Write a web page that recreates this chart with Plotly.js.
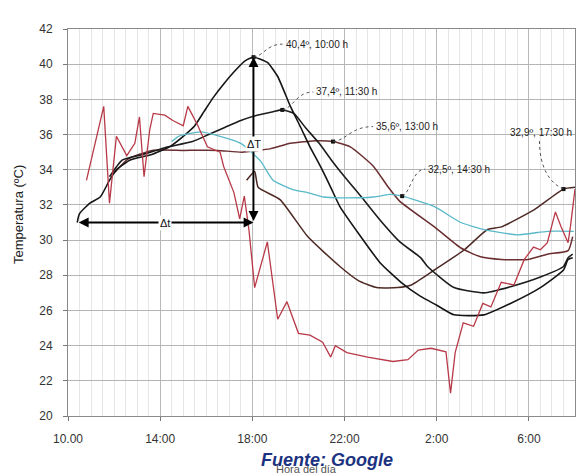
<!DOCTYPE html>
<html><head><meta charset="utf-8">
<script src="https://cdn.plot.ly/plotly-3.0.1.min.js"></script>
<style>html,body{margin:0;padding:0;background:#fff}#chart{width:583px;height:474px}</style>
</head><body><div id="chart"></div>
<script>
// ---- axis ticks ----
const xTickVals = [10, 14, 18, 22, 26, 30];
const xTickText = ["10.00", "14:00", "18:00", "22:00", "2:00", "6:00"];
const yTickVals = [20, 22, 24, 26, 28, 30, 32, 34, 36, 38, 40, 42];

// ---- series (x = hour of day, >24 = next day) ----
const xA = [10.4, 10.5, 10.95, 11.4, 11.8, 12.1, 12.7, 13.6, 14.4, 15.0, 15.5, 15.9, 16.3, 16.8, 17.3, 17.7, 18.05, 18.65, 19.1, 19.65, 20.1, 20.5, 20.95, 21.4, 21.8, 22.7, 23.55, 24.45, 25.3, 26.0, 26.75, 28.05, 29.2, 30.5, 31.5, 31.7, 31.9];
const yA = [31.0, 31.5, 32.1, 32.45, 33.4, 34.0, 34.55, 34.85, 35.3, 35.9, 36.5, 37.3, 38.1, 38.95, 39.7, 40.2, 40.4, 40.1, 39.3, 37.6, 36.4, 35.3, 34.2, 33.0, 31.9, 30.2, 28.7, 27.6, 26.8, 26.3, 25.75, 25.75, 26.4, 27.3, 28.3, 28.9, 29.0];

const xB = [11.8, 12.35, 13.2, 14.2, 15.4, 16.1, 16.8, 17.5, 18.2, 18.9, 19.3, 19.8, 20.3, 20.9, 21.4, 22.0, 22.7, 23.5, 24.4, 25.3, 25.6, 26.75, 28.05, 29.2, 30.5, 31.5, 31.7, 31.9];
const yB = [33.6, 34.55, 34.85, 35.25, 35.6, 36.0, 36.4, 36.8, 37.1, 37.3, 37.4, 37.2, 36.4, 35.5, 34.6, 33.6, 32.5, 31.2, 29.9, 29.0, 28.5, 27.3, 27.0, 27.35, 27.9, 28.5, 29.0, 29.2];

const xC = [12.0, 12.6, 13.65, 15.0, 16.5, 17.55, 18.8, 19.65, 20.8, 21.5, 22.25, 23.25, 23.9, 24.4, 25.9, 27.05, 27.9, 28.8, 29.95, 30.8, 31.7, 31.9];
const yC = [33.8, 34.6, 35.1, 35.1, 35.1, 35.0, 35.2, 35.5, 35.65, 35.6, 35.3, 34.2, 33.0, 32.2, 30.75, 29.55, 29.05, 28.9, 28.9, 29.2, 29.4, 30.2];

const xD = [17.75, 18.1, 18.25, 19.2, 20.4, 21.8, 22.6, 23.4, 24.3, 24.9, 25.9, 27.2, 28.2, 28.8, 30.2, 31.5, 32.0];
const yD = [33.4, 33.9, 33.0, 32.3, 30.2, 28.5, 27.7, 27.3, 27.3, 27.45, 28.3, 29.45, 30.6, 30.75, 31.7, 32.9, 33.0];

const xCyan = [14.5, 14.8, 15.75, 16.6, 17.5, 18.35, 18.9, 19.8, 20.4, 21.1, 21.8, 23.25, 24.0, 24.5, 25.9, 27.05, 28.05, 29.5, 30.8, 31.95];
const yCyan = [35.6, 35.9, 36.15, 35.9, 35.5, 34.5, 33.4, 32.85, 32.7, 32.45, 32.4, 32.45, 32.6, 32.5, 31.9, 31.0, 30.6, 30.3, 30.5, 30.5];

const xOut = [10.8, 11.55, 11.8, 12.1, 12.55, 12.9, 13.1, 13.3, 13.55, 13.7, 14.2, 14.55, 15.0, 15.2, 15.6, 16.05, 16.6, 16.75, 17.2, 17.45, 17.65, 17.85, 18.1, 18.65, 19.1, 19.5, 20.0, 20.5, 21.05, 21.4, 21.6, 22.1, 23.0, 24.1, 24.75, 25.2, 25.75, 26.4, 26.6, 26.8, 27.15, 27.6, 28.0, 28.35, 28.8, 29.35, 29.8, 30.2, 30.5, 30.8, 31.15, 31.4, 31.7, 31.8, 32.0];
const yOut = [33.4, 37.6, 32.1, 35.9, 34.8, 35.5, 37.0, 33.6, 36.3, 37.2, 37.1, 36.8, 36.5, 37.6, 36.6, 35.3, 35.0, 34.2, 32.7, 31.2, 32.5, 30.6, 27.3, 29.9, 25.5, 26.5, 24.7, 24.6, 24.2, 23.35, 24.0, 23.6, 23.35, 23.1, 23.2, 23.75, 23.85, 23.65, 21.3, 23.6, 25.3, 25.1, 26.4, 26.2, 27.6, 27.45, 28.9, 29.6, 29.45, 29.85, 31.6, 30.75, 29.85, 30.75, 32.9];

// ---- labelled points ----
const labelX = [18.05, 19.3, 21.5, 24.5, 31.5];
const labelY = [40.4, 37.4, 35.6, 32.5, 32.9];
const labelText = ["40,4º, 10:00 h", "37,4º, 11:30 h", "35,6º, 13:00 h", "32,5º, 14:30 h", "32,9º, 17:30 h"];

const yTitle = "Temperatura (ºC)";
const xTitle = "Hora del día";
const sourceText = "Fuente: Google";

// ---- geometry helpers (pixel offsets -> data units) ----
const M = {l: 68, r: 8, t: 29, b: 58};
const W = 583, H = 474;
const xRange = [10, 32], yRange = [20, 42];
const pw = W - M.l - M.r, ph = H - M.t - M.b;
const hx = (xRange[1] - xRange[0]) / pw;   // hours per pixel
const hy = (yRange[1] - yRange[0]) / ph;   // degrees per pixel
const off = (x, y, dx, dy) => [x + dx * hx, y - dy * hy];

const font = "Liberation Sans, Arial, sans-serif";

function line(x, y, color, width, shape) {
  return {x: x, y: y, type: "scatter", mode: "lines", hoverinfo: "skip",
    line: {color: color, width: width, shape: shape || "spline", smoothing: 0.5}};
}

const traces = [
  line(xD, yD, "#4e2a24", 1.5),
  line(xC, yC, "#6a2e30", 1.5),
  line(xB, yB, "#1c1c1c", 1.6),
  line(xA, yA, "#151515", 1.6),
  line(xCyan, yCyan, "#5ab9c9", 1.3),
  line(xOut, yOut, "#b83a48", 1.3, "linear"),
  {x: labelX, y: labelY, type: "scatter", mode: "markers", hoverinfo: "skip",
   marker: {symbol: "square", size: 4, color: "#111"}}
];

// peak of series A and start of series A for Δt / ΔT arrows
let pk = 0;
yA.forEach((v, i) => { if (v > yA[pk]) pk = i; });
const peakX = xA[pk], peakY = yA[pk], startX = xA[0], startY = yA[0];

// label text offsets (pixels from labelled point) and leader paths
const textOff = [[29, -13], [31, -18], [40, -15], [23, -27], [-22, -57]];
const annotations = [];
const shapes = [];
labelText.forEach((t, i) => {
  const [dx, dy] = textOff[i];
  const px = labelX[i], py = labelY[i];
  let c1, c2, e;
  if (i < 4) {
    annotations.push({x: px, y: py, xref: "x", yref: "y", text: t, showarrow: false,
      xanchor: "left", yanchor: "middle", xshift: dx + 1, yshift: -dy,
      font: {family: font, size: 10, color: "#222"}});
    c1 = off(px, py, dx * 0.35, dy * 0.1);
    c2 = off(px, py, dx * 0.45, dy);
    e = off(px, py, dx, dy);
  } else {
    annotations.push({x: px, y: py, xref: "x", yref: "y", text: t, showarrow: false,
      xanchor: "center", yanchor: "middle", xshift: dx, yshift: -dy,
      font: {family: font, size: 10, color: "#222"}});
    c1 = off(px, py, -14, -6);
    c2 = off(px, py, -24, -22);
    e = off(px, py, -24, -48);
  }
  shapes.push({type: "path", xref: "x", yref: "y", layer: "above",
    path: `M ${px},${py} C ${c1[0]},${c1[1]} ${c2[0]},${c2[1]} ${e[0]},${e[1]}`,
    line: {color: "#444", width: 0.9, dash: "dot"}});
});

// ΔT vertical double arrow
annotations.push({x: peakX, y: peakY, ax: peakX, ay: startY, xref: "x", yref: "y",
  axref: "x", ayref: "y", showarrow: true, arrowside: "end+start", arrowhead: 2,
  arrowsize: 1.1, arrowwidth: 1.8, arrowcolor: "#000", text: "", standoff: 0, startstandoff: 0});
// Δt horizontal double arrow
annotations.push({x: peakX, y: startY, ax: startX, ay: startY, xref: "x", yref: "y",
  axref: "x", ayref: "y", showarrow: true, arrowside: "end+start", arrowhead: 2,
  arrowsize: 1.1, arrowwidth: 1.8, arrowcolor: "#000", text: "", standoff: 0, startstandoff: 0});
annotations.push({x: peakX, y: (peakY + startY) / 2, xref: "x", yref: "y", text: "ΔT",
  showarrow: false, bgcolor: "#fff", yshift: -4, borderpad: 1,
  font: {family: font, size: 11, color: "#111"}});
annotations.push({x: (peakX + startX) / 2, y: startY, xref: "x", yref: "y", text: "Δt",
  showarrow: false, bgcolor: "#fff", borderpad: 1, xshift: 0,
  font: {family: font, size: 11, color: "#111"}});

// axis titles and source
annotations.push({xref: "paper", yref: "paper", x: -0.098, y: 0.52, text: yTitle,
  textangle: -90, showarrow: false, xanchor: "center", yanchor: "middle",
  font: {family: font, size: 13, color: "#222"}});
annotations.push({xref: "paper", yref: "paper", x: 0.471, y: -0.136, text: xTitle,
  showarrow: false, xanchor: "center", yanchor: "middle",
  font: {family: font, size: 11, color: "#555"}});
annotations.push({xref: "paper", yref: "paper", x: 0.51, y: -0.114, text: "<b><i>" + sourceText + "</i></b>",
  showarrow: false, xanchor: "center", yanchor: "middle",
  font: {family: font, size: 18, color: "#1c3381"}});

const layout = {
  width: W, height: H,
  margin: M,
  paper_bgcolor: "#fff", plot_bgcolor: "#fff",
  showlegend: false,
  font: {family: font, size: 12, color: "#333"},
  xaxis: {range: xRange, tickmode: "array", tickvals: xTickVals, ticktext: xTickText,
    showgrid: true, gridcolor: "#b8b8b8", gridwidth: 1,
    minor: {tick0: 10, dtick: 0.5, showgrid: true, gridcolor: "#e6e6e6", gridwidth: 1},
    showline: true, mirror: true, linecolor: "#8a8a8a", linewidth: 1,
    ticks: "outside", ticklen: 4, tickcolor: "#777", ticklabelstandoff: 8,
    zeroline: false, fixedrange: true,
    tickfont: {family: font, size: 12, color: "#333"}},
  yaxis: {range: yRange, tickmode: "array", tickvals: yTickVals,
    showgrid: true, gridcolor: "#b4b4b4", gridwidth: 1,
    showline: true, mirror: true, linecolor: "#8a8a8a", linewidth: 1,
    ticks: "outside", ticklen: 4, tickcolor: "#777", ticklabelstandoff: 8,
    zeroline: false, fixedrange: true,
    tickfont: {family: font, size: 12, color: "#333"}},
  annotations: annotations,
  shapes: shapes
};

Plotly.newPlot("chart", traces, layout, {displayModeBar: false, staticPlot: true});
</script>
</body></html>
